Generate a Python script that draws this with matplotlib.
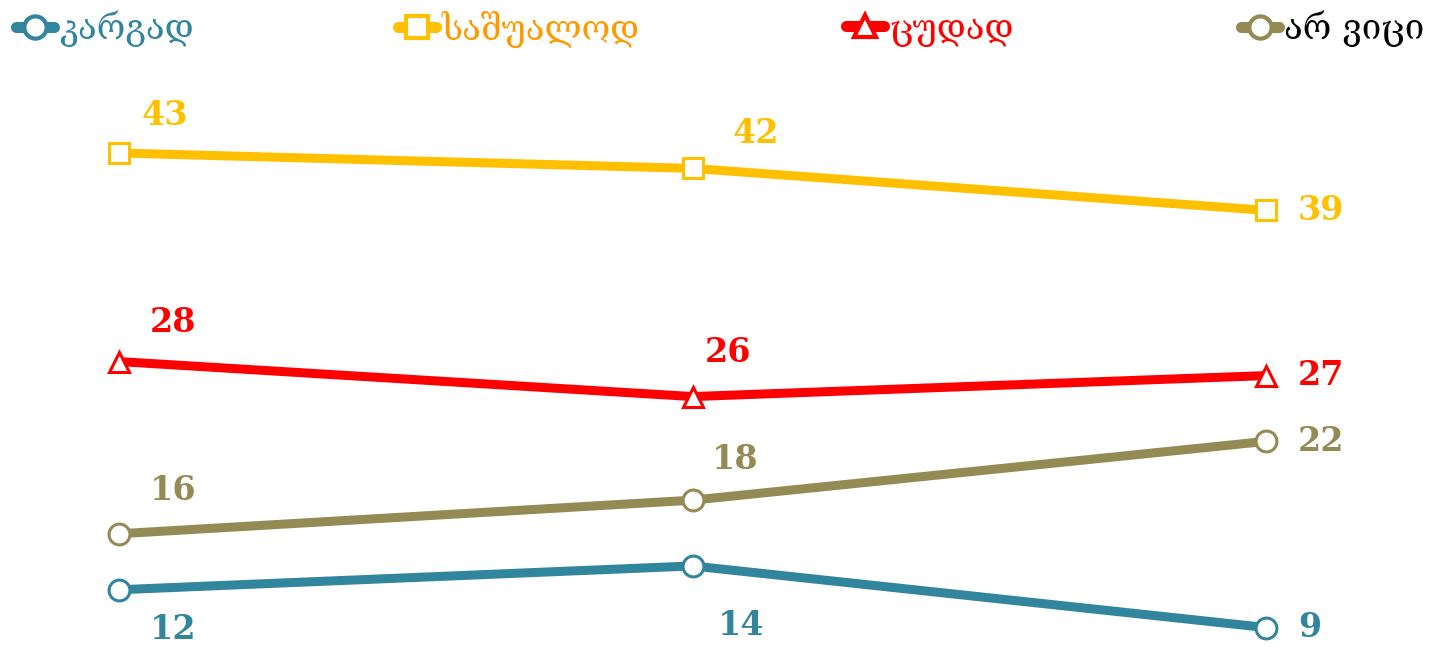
import matplotlib
matplotlib.use("Agg")
import matplotlib.pyplot as plt
from matplotlib.lines import Line2D

# three survey waves, no visible axis labels
x_pos = [0, 1, 2]

# values (labels are the rounded numbers shown)
kargad = [11.8, 13.5, 9.1]
sashualod = [43.0, 41.9, 38.9]
tsudad = [28.1, 25.6, 27.1]
ar_vitsi = [15.8, 18.2, 22.4]

kargad_lab = ["12", "14", "9"]
sashualod_lab = ["43", "42", "39"]
tsudad_lab = ["28", "26", "27"]
ar_vitsi_lab = ["16", "18", "22"]

names = ["კარგად", "საშუალოდ", "ცუდად", "არ ვიცი"]
colors = ["#31859C", "#FFC000", "#FF0000", "#948A54"]
text_colors = ["#31859C", "#FF9900", "#FF0000", "#000000"]
markers = ["o", "s", "^", "o"]

# label offsets in pixels (dx, dy), dy positive = up
offs_k = [(54, -40, "center"), (49, -60, "center"), (32, 0, "left")]
offs_s = [(46, 38, "center"), (63, 35, "center"), (32, 0, "left")]
offs_t = [(54, 39, "center"), (35, 44, "center"), (32, 0, "left")]
offs_a = [(54, 43, "center"), (43, 41, "center"), (32, 0, "left")]

serie = [kargad, sashualod, tsudad, ar_vitsi]
labs = [kargad_lab, sashualod_lab, tsudad_lab, ar_vitsi_lab]
offs = [offs_k, offs_s, offs_t, offs_a]

# left edge of each legend entry (figure fraction)
leg_x = [0.011, 0.276, 0.587, 0.861]

fig = plt.figure(figsize=(14.41, 6.47), dpi=100)
ax = fig.add_axes([0, 0, 1, 1])
ax.axis("off")

for i in range(4):
    ax.plot(x_pos, serie[i], color=colors[i], lw=6.5, marker=markers[i],
            markersize=15, markerfacecolor="white",
            markeredgecolor=colors[i], markeredgewidth=2.2,
            solid_capstyle="round")
    for j in range(3):
        dx, dy, ha = offs[i][j]
        ax.annotate(labs[i][j], (x_pos[j], serie[i][j]), xytext=(dx, dy),
                    textcoords="offset pixels", ha=ha, va="center",
                    color=colors[i], fontsize=24, fontweight="bold",
                    family="DejaVu Serif")

ax.set_xlim(-0.2075, 2.305)
ax.set_ylim(7.71, 53.93)

# one legend per entry so they sit where the original puts them
for i in range(4):
    proxy = Line2D([], [], color=colors[i], lw=8, marker=markers[i],
                   markersize=16, markerfacecolor="white",
                   markeredgecolor=colors[i], markeredgewidth=3,
                   solid_capstyle="round")
    leg = fig.legend(handles=[proxy], labels=[names[i]], loc="center left",
                     bbox_to_anchor=(leg_x[i], 0.955), frameon=False,
                     handlelength=1.1, handletextpad=0.15, borderaxespad=0,
                     borderpad=0,
                     prop={"family": ["DejaVu Serif", "DejaVu Sans"], "size": 25})
    leg.get_texts()[0].set_color(text_colors[i])

fig.savefig("out.png", dpi=100)
